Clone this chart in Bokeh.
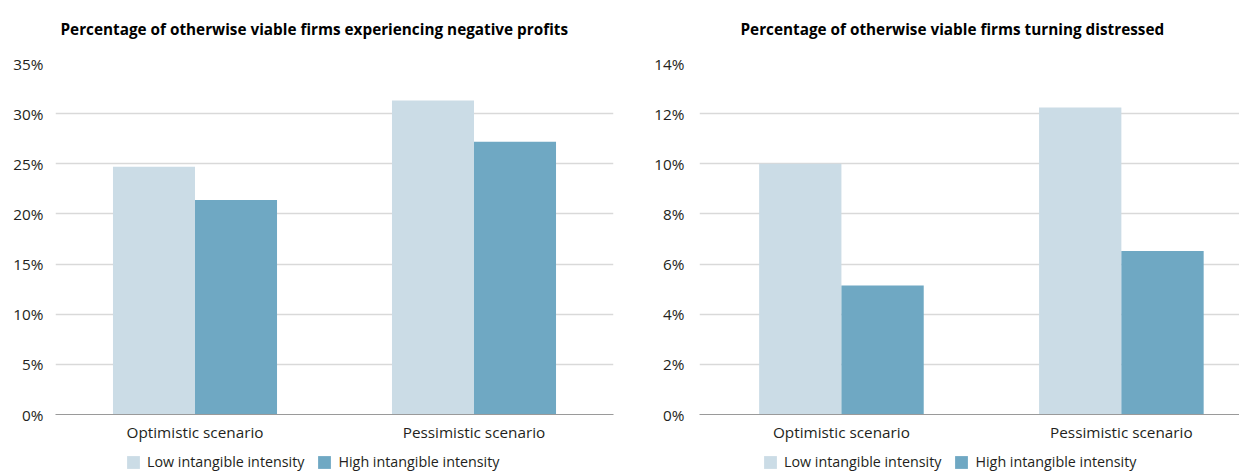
from bokeh.plotting import figure
from bokeh.layouts import row, column
from bokeh.models import (Range1d, FixedTicker, PrintfTickFormatter, Legend, LegendItem, Label, ColumnDataSource)
from bokeh.embed import file_html
from bokeh.resources import INLINE

scenarios = ["Optimistic scenario", "Pessimistic scenario"]
series = ["Low intangible intensity", "High intangible intensity"]
neg_profits_low = [24.7, 31.3]
neg_profits_high = [21.4, 27.2]
distressed_low = [10.0, 12.25]
distressed_high = [5.15, 6.52]
titles = ["Percentage of otherwise viable firms experiencing negative profits",
          "Percentage of otherwise viable firms turning distressed"]

LIGHT = "#cbdce6"
DARK = "#6fa8c3"
FONT = "Open Sans"
TXT = "#231f20"

centers = [0.5, 1.5]
BW = 0.294


def bars_source(low, high):
    return ColumnDataSource(dict(
        xl=[c - BW / 2 for c in centers], xh=[c + BW / 2 for c in centers], low=low, high=high))


def strip(width, height):
    q = figure(width=width, height=height, output_backend="svg", toolbar_location=None,
               x_range=Range1d(100, 101), y_range=Range1d(100, 101),
               min_border=0, x_axis_type=None, y_axis_type=None)
    q.outline_line_color = None
    q.xgrid.visible = False
    q.ygrid.visible = False
    return q


def title_fig(width, title, tx):
    q = strip(width, 53)
    q.add_layout(Label(x=tx, y=25, x_units="screen", y_units="screen", text=title,
                       text_align="left", text_baseline="middle", text_font=FONT,
                       text_font_style="bold", text_font_size="15.3px", text_color="black"))
    return q


def make(low, high, ymax, ystep, width, bl, br, xr, ystand):
    p = figure(width=width, height=397, output_backend="svg", toolbar_location=None,
               x_range=xr, y_range=Range1d(0, ymax),
               min_border_left=bl, min_border_right=br, min_border_top=10, min_border_bottom=36)
    p.outline_line_color = None
    src = bars_source(low, high)
    p.vbar(x="xl", top="low", width=BW, source=src, fill_color=LIGHT, line_color=None)
    p.vbar(x="xh", top="high", width=BW, source=src, fill_color=DARK, line_color=None)

    p.xgrid.grid_line_color = None
    p.ygrid.grid_line_color = "#d9d9d9"
    p.ygrid.grid_line_width = 1.5
    p.yaxis.ticker = FixedTicker(ticks=list(range(0, int(ymax) + 1, ystep)))
    p.yaxis.formatter = PrintfTickFormatter(format="%d%%")
    p.yaxis.axis_line_color = None
    p.yaxis.major_tick_line_color = None
    p.yaxis.minor_tick_line_color = None
    p.yaxis.major_label_standoff = ystand
    p.yaxis.major_label_text_font = FONT
    p.yaxis.major_label_text_font_size = "15.3px"
    p.yaxis.major_label_text_color = TXT

    p.xaxis.ticker = FixedTicker(ticks=centers)
    p.xaxis.major_label_overrides = {c: s for c, s in zip(centers, scenarios)}
    p.xaxis.axis_line_color = "#9a9a9a"
    p.xaxis.axis_line_width = 1.2
    p.xaxis.major_tick_line_color = None
    p.xaxis.minor_tick_line_color = None
    p.xaxis.major_label_standoff = 1
    p.xaxis.major_label_text_font = FONT
    p.xaxis.major_label_text_font_size = "15.3px"
    p.xaxis.major_label_text_color = TXT
    return p


def legend_fig(width, leg_x, low, high):
    # legend-only strip; the bars themselves lie outside its visible range
    q = strip(width, 21)
    src = bars_source(low, high)
    e1 = q.vbar(x="xl", top="low", width=BW, source=src, fill_color=LIGHT, line_color=None)
    e2 = q.vbar(x="xh", top="high", width=BW, source=src, fill_color=DARK, line_color=None)
    leg = Legend(items=[LegendItem(label=series[0], renderers=[e1]),
                        LegendItem(label=series[1], renderers=[e2])],
                 orientation="horizontal", location=(leg_x, 0))
    leg.border_line_color = None
    leg.background_fill_alpha = 0
    leg.padding = 0
    leg.margin = 0
    leg.spacing = 12
    leg.glyph_width = 16
    leg.glyph_height = 16
    leg.label_height = 16
    leg.label_standoff = 6
    leg.label_text_font = FONT
    leg.label_text_font_size = "14.3px"
    leg.label_text_color = TXT
    q.add_layout(leg, "center")
    return q


t1 = title_fig(628, titles[0], 60)
t2 = title_fig(611, titles[1], 112)
p1 = make(neg_profits_low, neg_profits_high, 35, 5, 628, 55, 15, Range1d(0, 2), 6)
p2 = make(distressed_low, distressed_high, 14, 2, 611, 71, 0, Range1d(-0.007, 1.922), 9)
l1 = legend_fig(628, 125, neg_profits_low, neg_profits_high)
l2 = legend_fig(611, 134, distressed_low, distressed_high)

layout = column(row(t1, t2), row(p1, p2), row(l1, l2), spacing=0)
open("out.html", "w").write(file_html(layout, INLINE))
